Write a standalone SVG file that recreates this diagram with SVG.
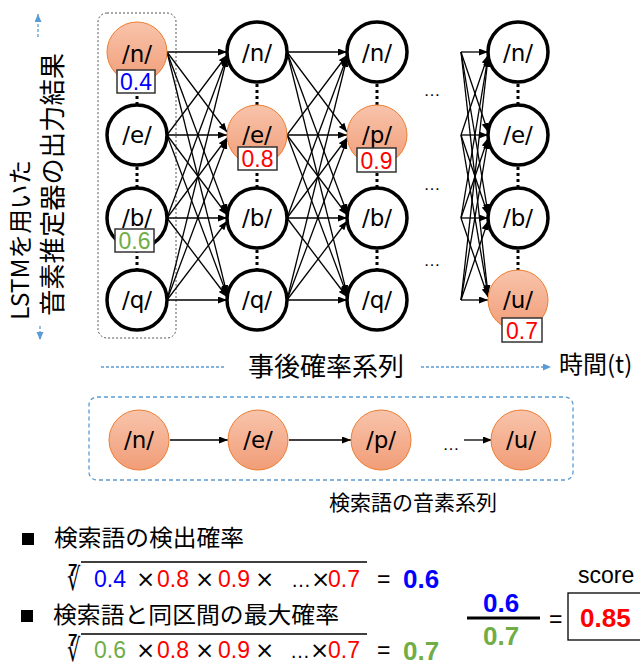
<svg xmlns="http://www.w3.org/2000/svg" width="640" height="662" viewBox="0 0 640 662">
<defs>
<linearGradient id="og" x1="0" y1="0" x2="0" y2="1">
<stop offset="0" stop-color="#f8c4ab"/>
<stop offset="1" stop-color="#f19d78"/>
</linearGradient>
<marker id="ah" markerUnits="userSpaceOnUse" markerWidth="10" markerHeight="8" refX="9" refY="3.5" orient="auto">
<path d="M0,0 L9,3.5 L0,7 z" fill="#000"/>
</marker>
<marker id="bh" markerUnits="userSpaceOnUse" markerWidth="10" markerHeight="8" refX="8" refY="3.5" orient="auto">
<path d="M0,0 L8,3.5 L0,7 z" fill="#5b9bd5"/>
</marker>
</defs>
<style>
.n{fill:#fff;stroke:#000;stroke-width:3.5}
.o{fill:url(#og);stroke:#ed7d31;stroke-width:1}
.t{font-family:"DejaVu Sans",sans-serif;font-size:23px;text-anchor:middle;fill:#000}
.dot{stroke:#000;stroke-width:3;stroke-dasharray:3 3}
.c line{stroke:#000;stroke-width:1.3;marker-end:url(#ah)}
.lb{fill:#fff;stroke:#333;stroke-width:1.5}
.lt{font-family:"Liberation Sans",sans-serif;font-size:23px;text-anchor:middle}
.jp{font-family:"Noto Sans CJK JP",sans-serif;fill:#000}
.f{font-family:"Liberation Sans",sans-serif;font-size:23px}
.el{font-family:"Liberation Sans",sans-serif;font-size:20px}
.x{font-family:"DejaVu Sans",sans-serif;font-size:23px}
.fb{font-family:"Liberation Sans",sans-serif;font-size:26px;font-weight:bold}
.bl{stroke:#5b9bd5;stroke-width:1.3;stroke-dasharray:3 2;fill:none}
.rt{font-family:"DejaVu Sans",sans-serif;font-size:26px}
.r7{font-family:"Liberation Sans",sans-serif;font-size:17px;font-weight:bold}
</style>
<rect x="98" y="13" width="78" height="325" rx="9" fill="none" stroke="#555" stroke-width="1" stroke-dasharray="2 2"/>
<g id="left-label">
<line class="bl" x1="38" y1="37" x2="38" y2="14" marker-end="url(#bh)"/>
<line class="bl" x1="40" y1="326" x2="40" y2="340" marker-end="url(#bh)"/>
<text class="jp" transform="translate(29,320) rotate(-90)" font-size="24" textLength="160" lengthAdjust="spacingAndGlyphs">LSTMを用いた</text>
<text class="jp" transform="translate(62,316) rotate(-90)" font-size="26" textLength="263" lengthAdjust="spacingAndGlyphs">音素推定器の出力結果</text>
</g>
<g id="connectors" class="c">
<line x1="167" y1="52" x2="227" y2="52"/><line x1="167" y1="135" x2="227" y2="55"/><line x1="167" y1="218" x2="227" y2="57"/><line x1="167" y1="300" x2="227" y2="58"/>
<line x1="167" y1="52" x2="227" y2="132"/><line x1="167" y1="135" x2="227" y2="135"/><line x1="167" y1="218" x2="227" y2="138"/><line x1="167" y1="300" x2="227" y2="140"/>
<line x1="167" y1="52" x2="227" y2="213"/><line x1="167" y1="135" x2="227" y2="215"/><line x1="167" y1="218" x2="227" y2="218"/><line x1="167" y1="300" x2="227" y2="221"/>
<line x1="167" y1="52" x2="227" y2="294"/><line x1="167" y1="135" x2="227" y2="295"/><line x1="167" y1="218" x2="227" y2="297"/><line x1="167" y1="300" x2="227" y2="300"/>
<line x1="287" y1="52" x2="347" y2="52"/><line x1="287" y1="135" x2="347" y2="55"/><line x1="287" y1="218" x2="347" y2="57"/><line x1="287" y1="300" x2="347" y2="58"/>
<line x1="287" y1="52" x2="347" y2="132"/><line x1="287" y1="135" x2="347" y2="135"/><line x1="287" y1="218" x2="347" y2="138"/><line x1="287" y1="300" x2="347" y2="140"/>
<line x1="287" y1="52" x2="347" y2="213"/><line x1="287" y1="135" x2="347" y2="215"/><line x1="287" y1="218" x2="347" y2="218"/><line x1="287" y1="300" x2="347" y2="221"/>
<line x1="287" y1="52" x2="347" y2="294"/><line x1="287" y1="135" x2="347" y2="295"/><line x1="287" y1="218" x2="347" y2="297"/><line x1="287" y1="300" x2="347" y2="300"/>
<line x1="461" y1="52" x2="488" y2="52"/><line x1="461" y1="135" x2="488" y2="55"/><line x1="461" y1="218" x2="488" y2="57"/><line x1="461" y1="300" x2="488" y2="58"/>
<line x1="461" y1="52" x2="488" y2="132"/><line x1="461" y1="135" x2="488" y2="135"/><line x1="461" y1="218" x2="488" y2="138"/><line x1="461" y1="300" x2="488" y2="140"/>
<line x1="461" y1="52" x2="488" y2="213"/><line x1="461" y1="135" x2="488" y2="215"/><line x1="461" y1="218" x2="488" y2="218"/><line x1="461" y1="300" x2="488" y2="221"/>
<line x1="461" y1="52" x2="488" y2="294"/><line x1="461" y1="135" x2="488" y2="295"/><line x1="461" y1="218" x2="488" y2="297"/><line x1="461" y1="300" x2="488" y2="300"/>
<line x1="170" y1="440" x2="228" y2="440"/>
<line x1="289" y1="440" x2="351" y2="440"/>
<line x1="464" y1="440" x2="492" y2="440"/>
</g>
<g id="dots">
<line class="dot" x1="137" y1="84" x2="137" y2="105"/><line class="dot" x1="137" y1="167" x2="137" y2="188"/><line class="dot" x1="137" y1="250" x2="137" y2="271"/>
<line class="dot" x1="257" y1="84" x2="257" y2="105"/><line class="dot" x1="257" y1="167" x2="257" y2="188"/><line class="dot" x1="257" y1="250" x2="257" y2="271"/>
<line class="dot" x1="377" y1="84" x2="377" y2="105"/><line class="dot" x1="377" y1="167" x2="377" y2="188"/><line class="dot" x1="377" y1="250" x2="377" y2="271"/>
<line class="dot" x1="518" y1="84" x2="518" y2="105"/><line class="dot" x1="518" y1="167" x2="518" y2="188"/><line class="dot" x1="518" y1="250" x2="518" y2="271"/>
</g>
<g id="c1n"><circle class="o" cx="137" cy="52" r="30"/><text class="t" x="137" y="62" font-size="26">/n/</text></g>
<g id="c1e"><circle class="n" cx="137" cy="135" r="30"/><text class="t" x="137" y="143" font-size="19">/e/</text></g>
<g id="c1b"><circle class="n" cx="137" cy="218" r="30"/><text class="t" x="137" y="226">/b/</text></g>
<g id="c1q"><circle class="n" cx="137" cy="300" r="30"/><text class="t" x="137" y="308">/q/</text></g>
<g id="c2n"><circle class="n" cx="257" cy="52" r="30"/><text class="t" x="257" y="61" font-size="25">/n/</text></g>
<g id="c2e"><circle class="o" cx="257" cy="135" r="30"/><text class="t" x="257" y="143">/e/</text></g>
<g id="c2b"><circle class="n" cx="257" cy="218" r="30"/><text class="t" x="257" y="226">/b/</text></g>
<g id="c2q"><circle class="n" cx="257" cy="300" r="30"/><text class="t" x="257" y="308">/q/</text></g>
<g id="c3n"><circle class="n" cx="377" cy="52" r="30"/><text class="t" x="377" y="61" font-size="25">/n/</text></g>
<g id="c3p"><circle class="o" cx="377" cy="135" r="30"/><text class="t" x="377" y="143">/p/</text></g>
<g id="c3b"><circle class="n" cx="377" cy="218" r="30"/><text class="t" x="377" y="226">/b/</text></g>
<g id="c3q"><circle class="n" cx="377" cy="300" r="30"/><text class="t" x="377" y="308">/q/</text></g>
<g id="c4n"><circle class="n" cx="518" cy="52" r="30"/><text class="t" x="518" y="61" font-size="26">/n/</text></g>
<g id="c4e"><circle class="n" cx="518" cy="135" r="30"/><text class="t" x="518" y="143" font-size="21">/e/</text></g>
<g id="c4b"><circle class="n" cx="518" cy="218" r="30"/><text class="t" x="518" y="226">/b/</text></g>
<g id="c4u"><circle class="o" cx="518" cy="300" r="30"/><text class="t" x="518" y="308">/u/</text></g>
<g id="labels">
<rect class="lb" x="117" y="70" width="38" height="23"/><text class="lt" x="136" y="90" fill="#0000ff">0.4</text>
<rect class="lb" x="115" y="229" width="39" height="23"/><text class="lt" x="134.5" y="249" fill="#70ad47">0.6</text>
<rect class="lb" x="238" y="147" width="39" height="23"/><text class="lt" x="257.5" y="167" fill="#ff0000">0.8</text>
<rect class="lb" x="357" y="148" width="39" height="24"/><text class="lt" x="376.5" y="169" fill="#ff0000">0.9</text>
<rect class="lb" x="502" y="318" width="40" height="24"/><text class="lt" x="522" y="339" fill="#ff0000">0.7</text>
</g>
<g id="ellipses" font-family="Liberation Sans,sans-serif" font-size="17" text-anchor="middle">
<text x="432" y="96">…</text><text x="432" y="190">…</text><text x="432" y="266">…</text>
</g>
<g id="time-axis">
<line class="bl" x1="101" y1="367" x2="225" y2="367"/>
<line class="bl" x1="421" y1="367" x2="551" y2="367" marker-end="url(#bh)"/>
<text class="jp" x="326" y="376" font-size="26" text-anchor="middle">事後確率系列</text>
<text class="jp" x="559" y="373" font-size="24">時間(t)</text>
</g>
<rect x="89" y="397" width="484" height="83" rx="8" fill="none" stroke="#5b9bd5" stroke-width="1.3" stroke-dasharray="4 3"/>
<g id="s1"><circle class="o" cx="139" cy="440" r="30"/><text class="t" x="139" y="448">/n/</text></g>
<g id="s2"><circle class="o" cx="258" cy="440" r="30"/><text class="t" x="258" y="448">/e/</text></g>
<g id="s3"><circle class="o" cx="381" cy="440" r="30"/><text class="t" x="381" y="448">/p/</text></g>
<g id="s4"><circle class="o" cx="521" cy="440" r="30"/><text class="t" x="521" y="448">/u/</text></g>
<text x="451" y="450" font-family="Liberation Sans,sans-serif" font-size="17" text-anchor="middle">…</text>
<text class="jp" x="329" y="510" font-size="21">検索語の音素系列</text>
<g id="formula1">
<rect x="22" y="533" width="12" height="12" fill="#000"/>
<text class="jp" x="54" y="546" font-size="23" textLength="190" lengthAdjust="spacingAndGlyphs">検索語の検出確率</text>
<text class="r7" x="68" y="576">7</text>
<text class="rt" transform="translate(67,590) scale(0.8,1.2)">√</text>
<line x1="81" y1="562" x2="367" y2="562" stroke="#000" stroke-width="1.3"/>
<text class="f" x="94" y="587" fill="#0000ff">0.4</text>
<text class="x" x="136" y="587">×</text>
<text class="f" x="157" y="587" fill="#ff0000">0.8</text>
<text class="x" x="195" y="587">×</text>
<text class="f" x="218" y="587" fill="#ff0000">0.9</text>
<text class="x" x="255" y="587">×</text>
<text class="el" x="291" y="587">…</text>
<text class="x" x="311" y="587">×</text>
<text class="f" x="328" y="587" fill="#ff0000">0.7</text>
<text class="f" x="377" y="587">=</text>
<text class="fb" x="403" y="588" fill="#0000ff">0.6</text>
</g>
<g id="formula2">
<rect x="21" y="610" width="12" height="12" fill="#000"/>
<text class="jp" x="53" y="623" font-size="23" textLength="286" lengthAdjust="spacingAndGlyphs">検索語と同区間の最大確率</text>
<text class="r7" x="68" y="646">7</text>
<text class="rt" transform="translate(67,661) scale(0.8,1.2)">√</text>
<line x1="81" y1="634" x2="367" y2="634" stroke="#000" stroke-width="1.3"/>
<text class="f" x="94" y="658" fill="#70ad47">0.6</text>
<text class="x" x="136" y="658">×</text>
<text class="f" x="157" y="658" fill="#ff0000">0.8</text>
<text class="x" x="195" y="658">×</text>
<text class="f" x="218" y="658" fill="#ff0000">0.9</text>
<text class="x" x="255" y="658">×</text>
<text class="el" x="290" y="658">…</text>
<text class="x" x="310" y="658">×</text>
<text class="f" x="328" y="658" fill="#ff0000">0.7</text>
<text class="f" x="377" y="658">=</text>
<text class="fb" x="403" y="660" fill="#70ad47">0.7</text>
</g>
<g id="score">
<text class="fb" x="483" y="612" fill="#0000ff">0.6</text>
<line x1="467" y1="618" x2="540" y2="618" stroke="#000" stroke-width="3"/>
<text class="fb" x="483" y="645" fill="#70ad47">0.7</text>
<text class="f" x="549" y="627">=</text>
<text class="f" x="578" y="583">score</text>
<rect x="568" y="593" width="80" height="47" fill="#fff" stroke="#000" stroke-width="1.3"/>
<text class="fb" x="580" y="627" font-size="27" fill="#ff0000">0.85</text>
</g>
</svg>
